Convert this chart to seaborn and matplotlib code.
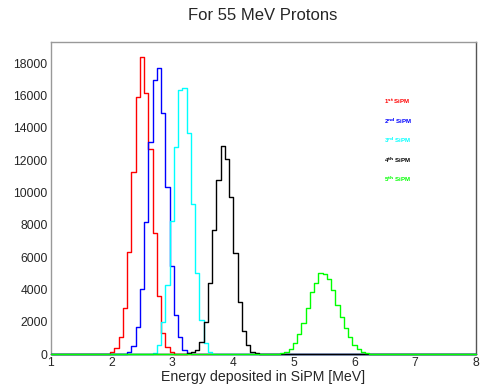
import numpy as np
import pandas as pd
import matplotlib
matplotlib.use("Agg")
import matplotlib.pyplot as plt
from matplotlib.ticker import MultipleLocator
import seaborn as sns

sns.set_style("white")
plt.rcParams['font.family'] = ['Liberation Sans', 'DejaVu Sans']

# 100 bins from 1 to 8 MeV (0.07 MeV wide)
edges = list(np.linspace(1, 8, 101))
bw = 0.07

# counts per bin; *_start = lower edge of first listed bin
red_start = 1.91
red_counts = [20, 120, 400, 1030, 2830, 6340, 11250, 15930, 18410, 16140,
              12670, 7510, 3610, 1330, 450, 140, 30]
blue_start = 2.19
blue_counts = [30, 100, 495, 1690, 4030, 8190, 13110, 16970, 17690, 14900,
               10360, 5450, 2420, 1030, 250, 60]
cyan_start = 2.68
cyan_counts = [40, 560, 2000, 4270, 8260, 12840, 16350, 16450, 13710, 9270,
               5040, 2100, 700, 145, 30]
black_start = 3.24
black_counts = [40, 100, 250, 720, 2000, 4400, 7700, 10800, 12860, 12060,
                9710, 6230, 3240, 1430, 557, 144, 40]
green_start = 4.71
green_counts = [10, 41, 144, 289, 660, 1238, 1940, 2828, 3860, 4417, 5036,
                4954, 4623, 3963, 3034, 2270, 1589, 1032, 557, 289, 144, 40]

labels = ["1$^{\\mathbf{st}}$ SiPM", "2$^{\\mathbf{nd}}$ SiPM", "3$^{\\mathbf{rd}}$ SiPM",
          "4$^{\\mathbf{th}}$ SiPM", "5$^{\\mathbf{th}}$ SiPM"]
colors = ["#ff0000", "#0000ff", "#00ffff", "#000000", "#00ff00"]
series = [(red_start, red_counts), (blue_start, blue_counts), (cyan_start, cyan_counts),
          (black_start, black_counts), (green_start, green_counts)]

fig = plt.figure(figsize=(4.81, 3.84), dpi=100)
ax = fig.add_axes([0.1054, 0.0781, 0.8836, 0.8125])

for (start, counts), col in zip(series, colors):
    df = pd.DataFrame({"energy": start + bw * (np.arange(len(counts)) + 0.5),
                       "n": counts})
    sns.histplot(data=df, x="energy", weights="n", bins=edges, element="step",
                 fill=False, color=col, lw=1.0, ax=ax, zorder=3, clip_on=False)

ax.set_xlim(1, 8)
ax.set_ylim(0, 19320)
ax.xaxis.set_major_locator(MultipleLocator(1))
ax.xaxis.set_minor_locator(MultipleLocator(0.2))
ax.yaxis.set_major_locator(MultipleLocator(2000))
ax.yaxis.set_minor_locator(MultipleLocator(400))
ax.tick_params(axis="both", which="both", direction="in", color="#999999",
               labelsize=8.7, pad=2.2)
ax.tick_params(axis="y", which="major", length=9)
ax.tick_params(axis="y", which="minor", length=4.5)
ax.tick_params(axis="x", which="major", length=6.7)
ax.tick_params(axis="x", which="minor", length=3.4)

ax.set_xlabel("Energy deposited in SiPM [MeV]", fontsize=10.2, labelpad=0.5)
ax.set_ylabel("")
for side in ["left", "top", "bottom"]:
    ax.spines[side].set_color("#999999")
ax.spines["right"].set_color("#555555")
for sp in ax.spines.values():
    sp.set_linewidth(1.0)

# labels in the plot (ROOT style latex)
ypos = [101.7, 121, 140.7, 160, 179.3]
for lab, col, yp in zip(labels, colors, ypos):
    fig.text(384.5 / 481, 1 - yp / 384, lab, color=col, fontsize=4.4,
             fontweight="bold", va="center", ha="left")

fig.text(262.5 / 481, 1 - 16 / 384, "For 55 MeV Protons", fontsize=12,
         ha="center", va="center")

fig.savefig("out.png", dpi=100)
